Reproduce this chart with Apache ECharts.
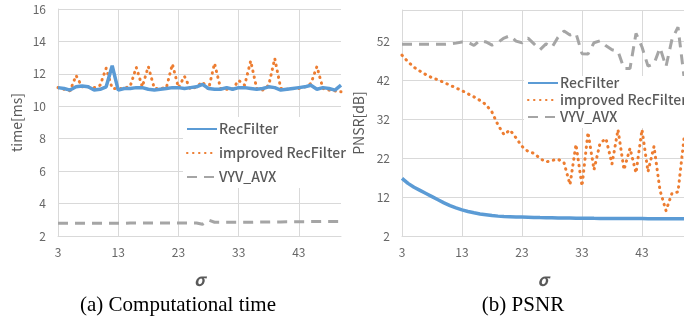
<!DOCTYPE html>
<html>
<head>
<meta charset="utf-8">
<script src="https://cdn.jsdelivr.net/npm/echarts@6/dist/echarts.min.js"></script>
<style>
  html, body { margin: 0; padding: 0; background: #fff; }
  #chart { width: 684px; height: 327px; }
</style>
</head>
<body>
<div id="chart"></div>
<script>
const sigma = [3, 4, 5, 6, 7, 8, 9, 10, 11, 12, 13, 14, 15, 16, 17, 18, 19, 20, 21, 22, 23, 24, 25, 26,
  27, 28, 29, 30, 31, 32, 33, 34, 35, 36, 37, 38, 39, 40, 41, 42, 43, 44, 45, 46, 47, 48, 49, 50];

// (a) computational time [ms]
const recTime = [11.15, 11.1, 11.0, 11.2, 11.25, 11.2, 11.0, 11.05, 11.2, 12.5, 11.0, 11.1, 11.1, 11.15,
  11.15, 11.05, 11.0, 11.05, 11.1, 11.15, 11.15, 11.1, 11.15, 11.2, 11.35, 11.1, 11.05, 11.05, 11.15,
  11.05, 11.15, 11.15, 11.1, 11.05, 11.1, 11.2, 11.15, 11.0, 11.05, 11.1, 11.15, 11.2, 11.3, 11.05,
  11.15, 11.1, 11.0, 11.3];
const impTime = [11.15, 11.05, 10.95, 11.9, 11.2, 11.2, 11.15, 11.3, 12.35, 11.1, 11.1, 11.1, 11.25, 12.4,
  11.2, 12.45, 11.1, 11.1, 11.15, 12.6, 11.15, 11.85, 11.05, 11.2, 11.5, 11.05, 12.65, 11.1, 11.05,
  11.05, 11.6, 11.3, 12.8, 11.1, 11.0, 11.3, 12.95, 11.1, 11.05, 11.1, 11.1, 11.2, 11.4, 12.45, 11.1,
  11.0, 10.95, 10.9];
const vyvTime = [2.78, 2.78, 2.78, 2.78, 2.78, 2.78, 2.78, 2.78, 2.78, 2.78, 2.78, 2.78, 2.8, 2.8, 2.8,
  2.8, 2.8, 2.8, 2.8, 2.8, 2.8, 2.8, 2.8, 2.8, 2.72, 2.98, 2.85, 2.85, 2.85, 2.85, 2.85, 2.85, 2.85,
  2.86, 2.86, 2.86, 2.87, 2.87, 2.88, 2.88, 2.88, 2.88, 2.89, 2.89, 2.9, 2.9, 2.9, 2.9];

// (b) PSNR [dB]
const recPsnr = [16.8, 15.5, 14.5, 13.7, 12.9, 12.1, 11.3, 10.5, 9.8, 9.2, 8.7, 8.3, 7.95, 7.65, 7.45,
  7.25, 7.1, 7.0, 6.95, 6.9, 6.85, 6.8, 6.75, 6.72, 6.7, 6.68, 6.65, 6.62, 6.6, 6.58, 6.55, 6.55,
  6.53, 6.52, 6.5, 6.5, 6.5, 6.48, 6.48, 6.47, 6.46, 6.45, 6.45, 6.45, 6.44, 6.43, 6.42, 6.4];
const impPsnr = [48.4, 46.7, 45.3, 44.3, 43.4, 42.6, 42.1, 41.4, 40.7, 40.0, 39.3, 38.5, 37.7, 36.8,
  35.7, 33.8, 30.5, 28.0, 29.2, 27.2, 25.0, 23.7, 23.2, 21.9, 21.0, 21.4, 21.7, 20.8, 15.2, 25.5,
  14.8, 28.6, 19.0, 25.8, 27.0, 20.5, 29.3, 19.0, 24.5, 18.2, 29.3, 18.5, 25.0, 13.7, 8.5, 13.0,
  13.3, 27.0];
const vyvPsnr = [51.2, 51.2, 51.2, 51.2, 51.2, 51.2, 51.2, 51.2, 51.3, 51.5, 51.8, 51.7, 50.9, 52.2,
  51.8, 51.0, 51.7, 52.8, 53.4, 52.0, 51.6, 52.8, 51.3, 49.8, 51.3, 50.4, 53.0, 54.6, 53.6, 54.0,
  48.8, 48.7, 51.6, 52.1, 50.8, 49.8, 49.4, 45.0, 45.0, 54.0, 50.5, 45.6, 46.2, 50.3, 45.5, 52.5,
  55.6, 43.0];

const names = ["RecFilter", "improved RecFilter", "VYV_AVX"];
const colors = ["#5B9BD5", "#ED7D31", "#A5A5A5"];

const gridColor = "#D9D9D9";
const labelColor = "#666";
const font = "'Noto Sans CJK JP', 'Noto Sans', sans-serif";

const chart = echarts.init(document.getElementById("chart"));

const xAxis = (gridIndex) => ({
  type: "category",
  gridIndex,
  data: sigma,
  boundaryGap: false,
  name: "σ",
  nameLocation: "middle",
  nameGap: 35,
  nameTextStyle: { fontSize: 17, fontWeight: "bold", fontStyle: "italic", color: "#595959", fontFamily: font },
  axisLine: { lineStyle: { color: gridColor } },
  axisTick: { show: false },
  axisLabel: { interval: 9, margin: 10, fontSize: 12, color: labelColor, fontFamily: font },
  splitLine: { show: true, interval: 9, lineStyle: { color: gridColor } },
});

const yAxis = (gridIndex, name, min, max, interval, gap) => ({
  type: "value",
  gridIndex,
  min,
  max,
  interval,
  name,
  nameLocation: "middle",
  nameGap: gap,
  nameTextStyle: { fontSize: 14, color: "#595959", fontFamily: font },
  axisLine: { show: true, lineStyle: { color: gridColor } },
  axisTick: { show: false },
  axisLabel: { margin: 12, fontSize: 12, color: labelColor, fontFamily: font, showMaxLabel: gridIndex === 0 },
  splitLine: { lineStyle: { color: gridColor } },
});

const styles = [
  { width: 3.5, type: "solid" },
  { width: 3, type: [0.5, 5.5], cap: "round" },
  { width: 3, type: [10, 7] },
];

const makeSeries = (gridIndex, data) =>
  data.map((d, i) => ({
    name: names[i],
    type: "line",
    xAxisIndex: gridIndex,
    yAxisIndex: gridIndex,
    data: d,
    showSymbol: false,
    symbol: "none",
    color: colors[i],
    lineStyle: Object.assign({ color: colors[i] }, styles[i]),
    z: 3 - i,
  }));

const legend = (left, top, gap, padTop) => ({
  data: names,
  orient: "vertical",
  left,
  top,
  width: 160,
  itemWidth: 30,
  itemHeight: 14,
  itemGap: gap,
  padding: [padTop, 6, 4, 3],
  backgroundColor: "#fff",
  selectedMode: false,
  itemStyle: { opacity: 0 },
  textStyle: { fontSize: 14, fontWeight: 500, color: "#595959", fontFamily: font, padding: [0, 0, 0, -3] },
});

chart.setOption({
  animation: false,
  grid: [
    { left: 58, top: 9, width: 283, height: 227 },
    { left: 402, top: 10, width: 283, height: 226 },
  ],
  xAxis: [xAxis(0), xAxis(1)],
  yAxis: [
    yAxis(0, "time[ms]", 2, 16, 2, 34),
    yAxis(1, "PNSR[dB]", 2, 60, 10, 36),
  ],
  legend: [legend(183, 117, 10, 5), legend(524, 76, 3, 0)],
  series: [
    ...makeSeries(0, [recTime, impTime, vyvTime]),
    ...makeSeries(1, [recPsnr, impPsnr, vyvPsnr]),
  ],
  graphic: [
    {
      type: "text",
      x: 178,
      y: 305,
      style: { text: "(a) Computational time", font: "21px 'Liberation Serif', serif", fill: "#000", textAlign: "center", textVerticalAlign: "middle" },
    },
    {
      type: "text",
      x: 523,
      y: 305,
      style: { text: "(b) PSNR", font: "21px 'Liberation Serif', serif", fill: "#000", textAlign: "center", textVerticalAlign: "middle" },
    },
  ],
});
</script>
</body>
</html>
